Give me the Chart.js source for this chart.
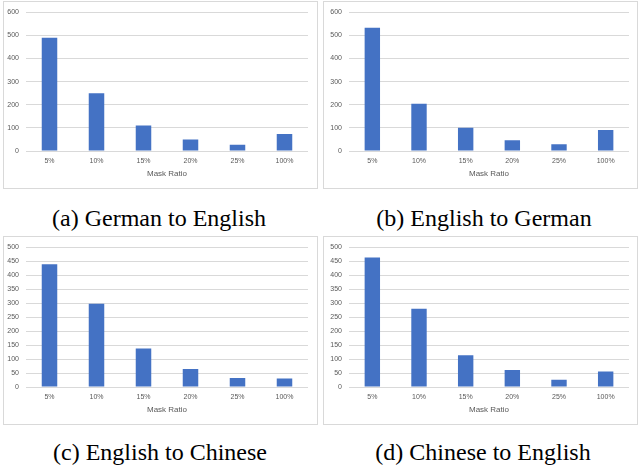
<!DOCTYPE html>
<html>
<head>
<meta charset="utf-8">
<script src="https://cdn.jsdelivr.net/npm/chart.js@4.4.1/dist/chart.umd.min.js"></script>
<style>
  html, body { margin: 0; padding: 0; background: #fff; }
  body { width: 640px; height: 466px; position: relative; overflow: hidden; }
  .box { position: absolute; border: 1px solid #d9d9d9; box-sizing: border-box; }
  .cv { position: absolute; }
  .cap { position: absolute; font-family: "Liberation Serif", "Times New Roman", serif; font-size: 24px; line-height: 24px; color: #000; white-space: nowrap; transform: translateX(-50%); }
</style>
</head>
<body>
<div class="box" style="left:3px;top:1px;width:315px;height:188px"></div>
<div class="box" style="left:323px;top:1px;width:315px;height:188px"></div>
<div class="box" style="left:3px;top:236px;width:315px;height:189px"></div>
<div class="box" style="left:323px;top:236px;width:315px;height:189px"></div>
<div class="cv" style="left:3px;top:1px;width:315px;height:188px"><canvas id="c1"></canvas></div>
<div class="cv" style="left:323px;top:1px;width:315px;height:188px"><canvas id="c2"></canvas></div>
<div class="cv" style="left:3px;top:236px;width:315px;height:189px"><canvas id="c3"></canvas></div>
<div class="cv" style="left:323px;top:236px;width:315px;height:189px"><canvas id="c4"></canvas></div>
<div class="cap" style="left:159px;top:206px">(a) German to English</div>
<div class="cap" style="left:484px;top:206px">(b) English to German</div>
<div class="cap" style="left:160px;top:440px">(c) English to Chinese</div>
<div class="cap" style="left:483px;top:440px">(d) Chinese to English</div>
<script>
const categories = ["5%", "10%", "15%", "20%", "25%", "100%"];
const germanToEnglish = [490, 250, 110, 50, 27, 73];
const englishToGerman = [533, 204, 100, 47, 29, 91];
const englishToChinese = [439, 298, 138, 64, 32, 30];
const chineseToEnglish = [463, 280, 114, 61, 26, 55];
const xTitle = "Mask Ratio";

function makeChart(id, values, yMax, yStep, yWidth, padRight) {
  new Chart(document.getElementById(id), {
    type: 'bar',
    data: {
      labels: categories,
      datasets: [{
        data: values,
        backgroundColor: '#4472C4',
        borderWidth: 0,
        barPercentage: 0.33,
        categoryPercentage: 1.0
      }]
    },
    options: {
      responsive: true,
      maintainAspectRatio: false,
      animation: false,
      devicePixelRatio: 1,
      layout: { padding: { left: 0, right: padRight, top: 9, bottom: 0 } },
      plugins: { legend: { display: false }, tooltip: { enabled: false } },
      scales: {
        x: {
          grid: { display: false, drawTicks: false },
          border: { display: false },
          ticks: { color: '#595959', font: { family: 'Liberation Sans', size: 7 }, padding: 6, maxRotation: 0 },
          title: { display: true, text: xTitle, color: '#595959', font: { family: 'Liberation Sans', size: 8 }, padding: { top: 0, bottom: 10 } },
          afterFit: s => { s.height = 38; }
        },
        y: {
          min: 0, max: yMax,
          grid: { color: '#d9d9d9', lineWidth: 1, drawTicks: false },
          border: { display: false },
          ticks: { stepSize: yStep, color: '#595959', font: { family: 'Liberation Sans', size: 7 }, padding: 7 },
          afterFit: s => { s.width = yWidth; }
        }
      }
    }
  });
}
makeChart('c1', germanToEnglish, 600, 100, 23, 10);
makeChart('c2', englishToGerman, 600, 100, 26, 9);
makeChart('c3', englishToChinese, 500, 50, 23, 10);
makeChart('c4', chineseToEnglish, 500, 50, 26, 9);
</script>
</body>
</html>
